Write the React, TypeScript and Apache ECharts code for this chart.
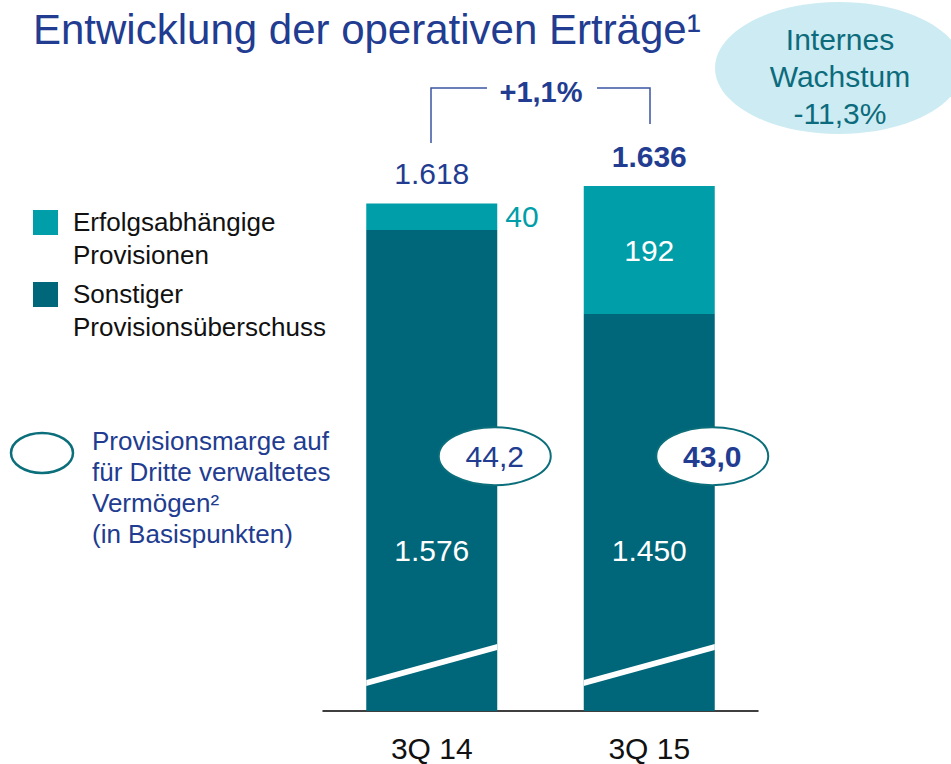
import React, { useEffect, useRef } from "react";
import * as echarts from "echarts";

const categories = ["3Q 14", "3Q 15"];
const sonstigerValues = [1576, 1450];
const erfolgsValues = [40, 192];
const totalValues = [1618, 1636];
const marginLabels = ["44,2", "43,0"];
const growthLabel = "+1,1%";
const internalGrowthLines = ["Internes", "Wachstum", "-11,3%"];
const titleText = "Entwicklung der operativen Erträge¹";
const legendBar = ["Erfolgsabhängige\nProvisionen", "Sonstiger\nProvisionsüberschuss"];
const legendOval = "Provisionsmarge auf\nfür Dritte verwaltetes\nVermögen²\n(in Basispunkten)";

const TEAL = "#009ea8";
const DARK = "#00677a";
const NAVY = "#213c90";
const OVAL_STROKE = "#0b6e7b";
const FONT = "'Liberation Sans', Arial, Helvetica, sans-serif";

const fmt = (v: number) => {
  if (v < 1000) return String(v);
  return Math.floor(v / 1000) + "." + String(v % 1000).padStart(3, "0");
};

export default function App() {
  const ref = useRef<HTMLDivElement>(null);
  useEffect(() => {
    const chart = echarts.init(ref.current!, null, { renderer: "svg" });
    const option: any = {
      animation: false,
      backgroundColor: "#fff",
      grid: { left: 323, right: 193, top: 100, bottom: 53 },
      xAxis: {
        type: "category",
        data: categories,
        axisLine: { lineStyle: { color: "#000", width: 1.5 } },
        axisTick: { show: false },
        axisLabel: { color: "#111", fontSize: 30, fontFamily: FONT, margin: 22 },
      },
      yAxis: { type: "value", min: 855, max: 1771, show: false, splitLine: { show: false } },
      series: [
        {
          name: "Sonstiger Provisionsüberschuss",
          type: "bar",
          stack: "total",
          barWidth: 131,
          z: 2,
          itemStyle: { color: DARK },
          data: sonstigerValues.map((v, i) => ({
            value: v,
            label: { offset: [0, i === 0 ? 300 : 216] },
          })),
          label: {
            show: true,
            position: "insideTop",
            color: "#fff",
            fontSize: 30,
            fontFamily: FONT,
            formatter: (p: any) => fmt(p.value),
          },
        },
        {
          name: "Erfolgsabhängige Provisionen",
          type: "bar",
          stack: "total",
          barWidth: 131,
          z: 2,
          itemStyle: { color: TEAL },
          data: erfolgsValues.map((v, i) => ({
            value: v,
            label:
              i === 0
                ? { position: "right", color: TEAL, distance: 8 }
                : { position: "inside", color: "#fff" },
          })),
          label: {
            show: true,
            fontSize: 30,
            fontFamily: FONT,
            formatter: (p: any) => fmt(p.value),
          },
        },
        {
          name: "Gesamt",
          type: "scatter",
          symbolSize: 0,
          silent: true,
          z: 3,
          itemStyle: { opacity: 1 },
          data: totalValues.map((v, i) => ({
            value: v,
            label: { fontWeight: i === 1 ? "bold" : "normal", distance: i === 1 ? 19 : 14 },
          })),
          label: {
            show: true,
            position: "top",
            color: NAVY,
            opacity: 1,
            fontSize: 30,
            fontFamily: FONT,
            formatter: (p: any) => fmt(p.value),
          },
        },
        {
          name: "Bruch",
          type: "custom",
          silent: true,
          z: 10,
          data: categories.map((_, i) => [i]),
          renderItem: (params: any, api: any) => {
            const cs = params.coordSys;
            const cx = api.coord([api.value(0), 855])[0];
            const base = cs.y + cs.height;
            const xl = cx - 65.5;
            const xr = cx + 65.5;
            const yl = base - 28;
            const yr = base - 64;
            return {
              type: "polygon",
              shape: { points: [[xl, yl - 3], [xr, yr - 3], [xr, yr + 3], [xl, yl + 3]] },
              style: { fill: "#fff" },
            };
          },
        },
        {
          name: "Provisionsmarge",
          type: "custom",
          silent: true,
          z: 11,
          data: marginLabels.map((_, i) => [i]),
          renderItem: (params: any, api: any) => {
            const cs = params.coordSys;
            const idx = api.value(0);
            const cx = api.coord([idx, 855])[0] + 63;
            const cy = cs.y + cs.height * 0.583;
            return {
              type: "group",
              children: [
                {
                  type: "ellipse",
                  shape: { cx, cy, rx: 56, ry: 29 },
                  style: { fill: "#fff", stroke: OVAL_STROKE, lineWidth: 2 },
                },
                {
                  type: "text",
                  x: cx,
                  y: cy,
                  style: {
                    text: marginLabels[idx],
                    fill: NAVY,
                    fontSize: 30,
                    fontFamily: FONT,
                    fontWeight: idx === 1 ? "bold" : "normal",
                    align: "center",
                    verticalAlign: "middle",
                  },
                },
              ],
            };
          },
        },
      ],
      graphic: [
        {
          type: "text",
          x: 33,
          y: 29,
          style: { text: titleText, fill: NAVY, fontSize: 42, fontFamily: FONT, verticalAlign: "middle" },
        },
        {
          type: "ellipse",
          shape: { cx: 839, cy: 68, rx: 124, ry: 66 },
          style: { fill: "#cdebf2" },
        },
        {
          type: "text",
          x: 840,
          y: 76,
          style: {
            text: internalGrowthLines.join("\n"),
            fill: "#0c6b7c",
            fontSize: 30,
            lineHeight: 37,
            fontFamily: FONT,
            align: "center",
            verticalAlign: "middle",
          },
        },
        {
          type: "polyline",
          shape: { points: [[431, 143], [431, 88], [487, 88]] },
          style: { stroke: "#3a55a2", lineWidth: 1.5, fill: null },
        },
        {
          type: "polyline",
          shape: { points: [[597, 88], [650, 88], [650, 124]] },
          style: { stroke: "#3a55a2", lineWidth: 1.5, fill: null },
        },
        {
          type: "text",
          x: 541,
          y: 92,
          style: {
            text: growthLabel,
            fill: NAVY,
            fontSize: 29,
            fontWeight: "bold",
            fontFamily: FONT,
            align: "center",
            verticalAlign: "middle",
          },
        },
        { type: "rect", shape: { x: 33, y: 210, width: 25, height: 25 }, style: { fill: TEAL } },
        {
          type: "text",
          x: 73,
          y: 205.5,
          style: { text: legendBar[0], fill: "#111", fontSize: 26, lineHeight: 33, fontFamily: FONT, verticalAlign: "top" },
        },
        { type: "rect", shape: { x: 33, y: 282, width: 25, height: 25 }, style: { fill: DARK } },
        {
          type: "text",
          x: 73,
          y: 277.5,
          style: { text: legendBar[1], fill: "#111", fontSize: 26, lineHeight: 33, fontFamily: FONT, verticalAlign: "top" },
        },
        {
          type: "ellipse",
          shape: { cx: 42, cy: 453, rx: 31, ry: 20 },
          style: { fill: "#fff", stroke: OVAL_STROKE, lineWidth: 2.5 },
        },
        {
          type: "text",
          x: 92,
          y: 425.5,
          style: { text: legendOval, fill: NAVY, fontSize: 26, lineHeight: 31, fontFamily: FONT, verticalAlign: "top" },
        },
      ],
    };
    chart.setOption(option);
    return () => chart.dispose();
  }, []);
  return (
    <div
      ref={ref}
      style={{ position: "absolute", left: 0, top: 0, width: 951, height: 764 }}
    />
  );
}
